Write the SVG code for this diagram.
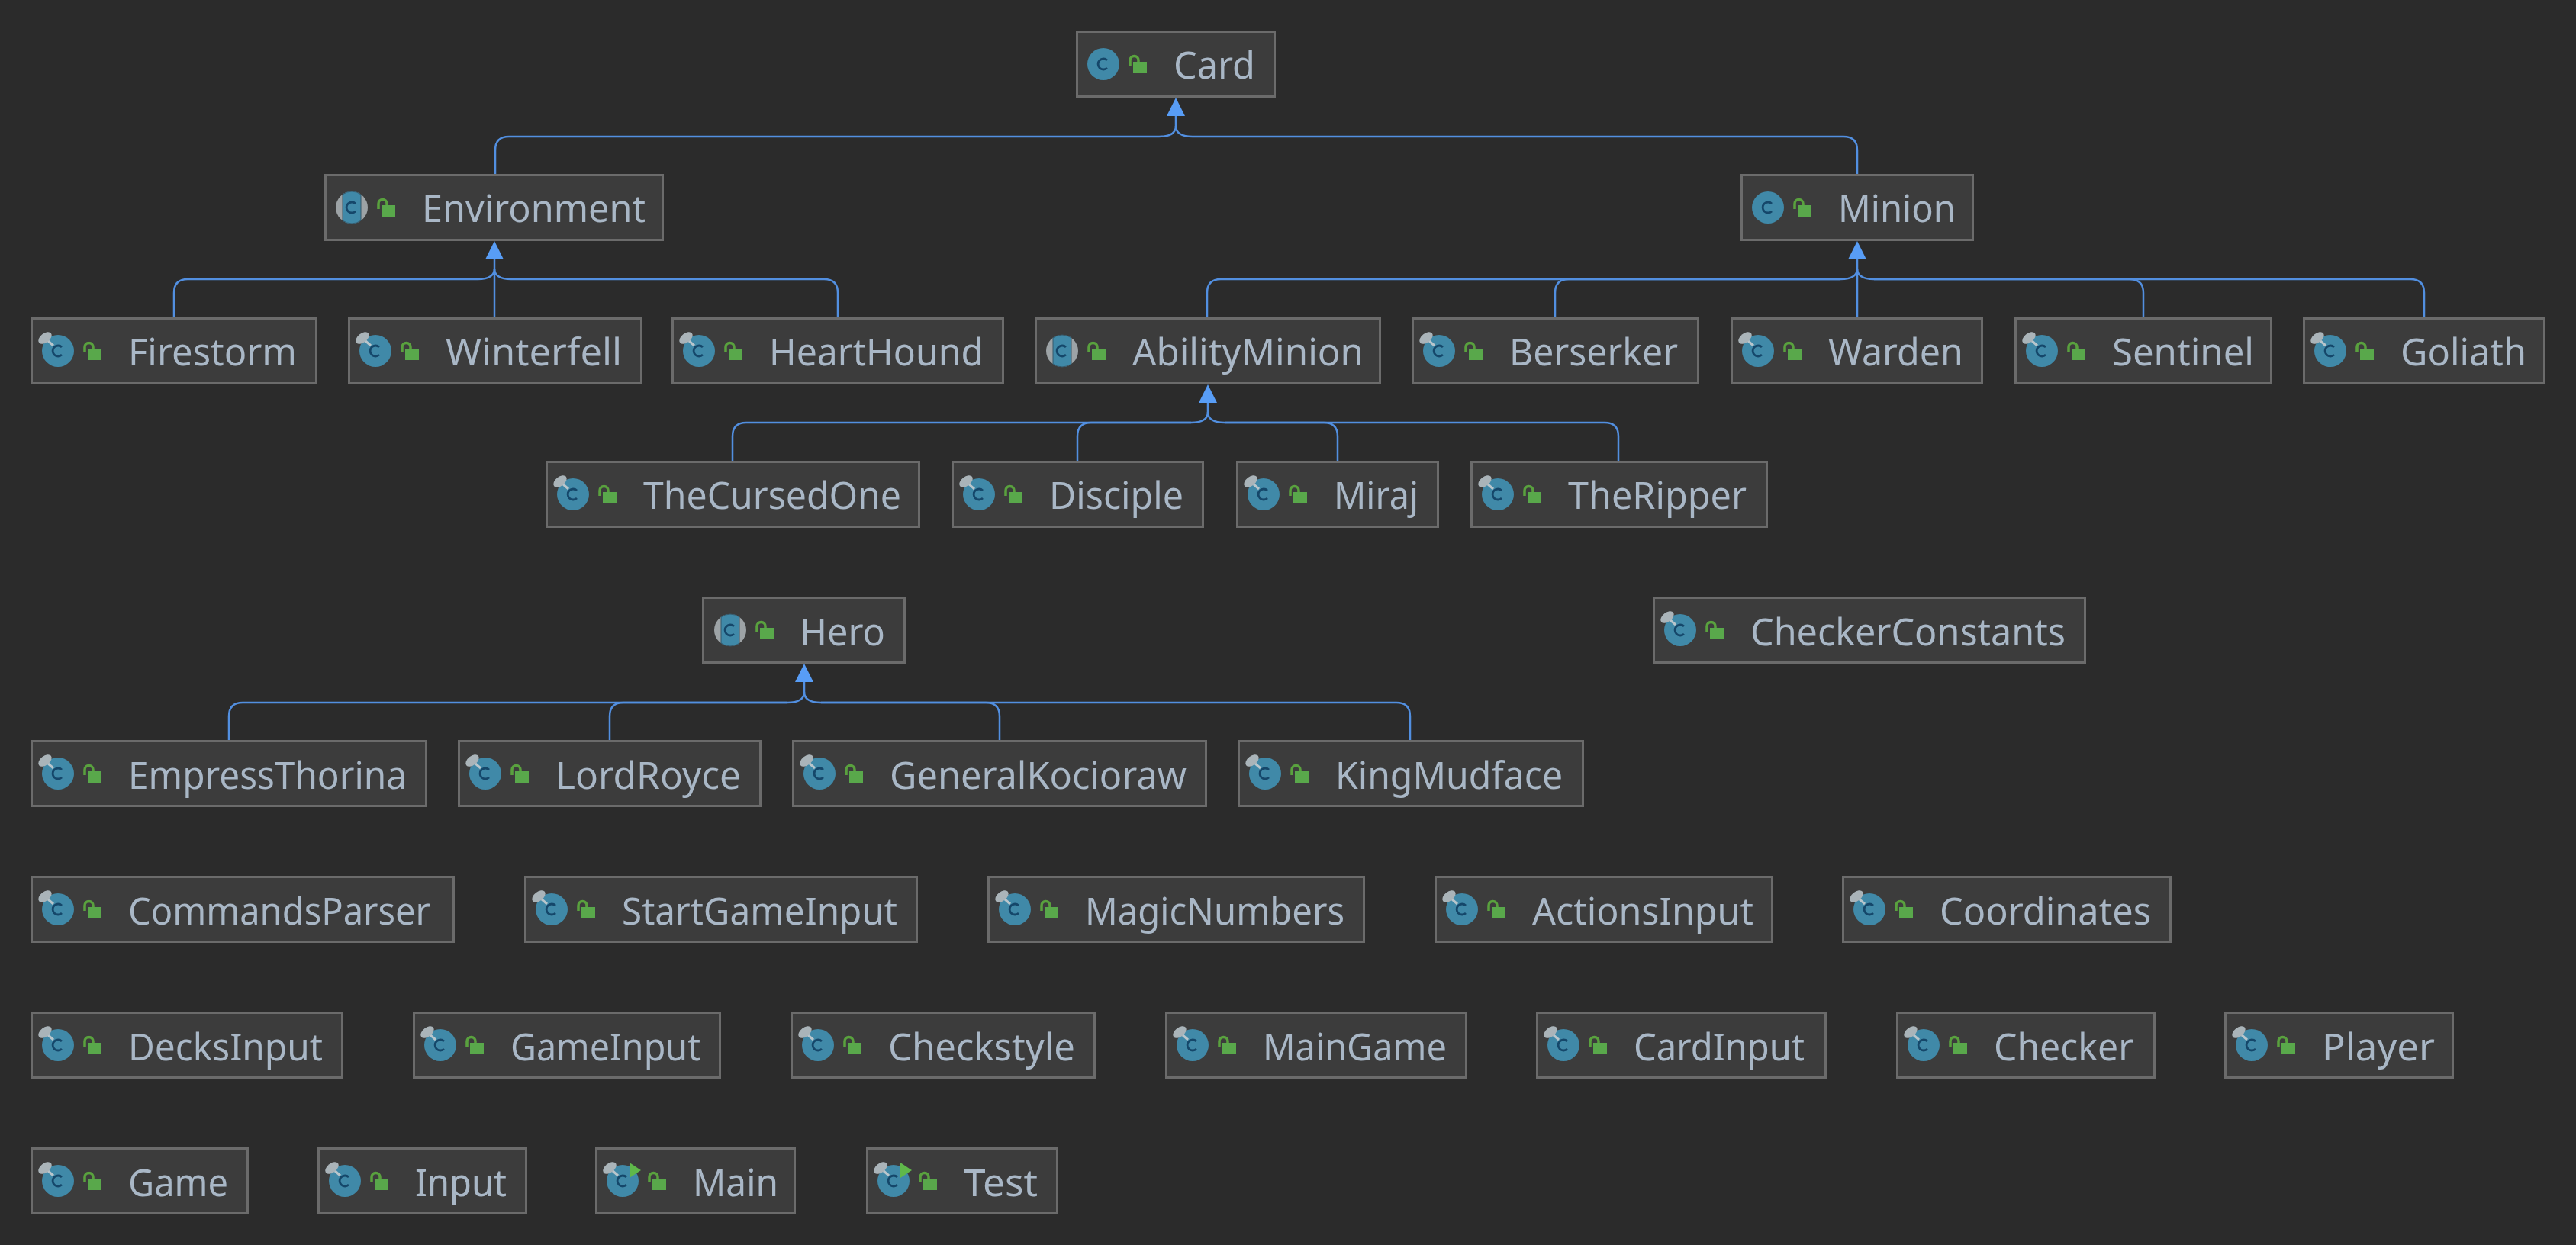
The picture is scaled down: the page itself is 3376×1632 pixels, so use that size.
<svg xmlns="http://www.w3.org/2000/svg" width="3376" height="1632" viewBox="0 0 3376 1632">
<style>
.b{fill:#3c3c3c;stroke:#6b6b6b;stroke-width:3}
.t{font-family:"Noto Sans","DejaVu Sans",sans-serif;font-size:50px;fill:#a9b7c6}
.c{fill:none;stroke:#528fe0;stroke-width:2.500}
.h{fill:none;stroke:#528fe0;stroke-width:2.500;marker-end:url(#arr)}
</style>
<defs>
<marker id="arr" markerUnits="userSpaceOnUse" viewBox="0 -12 24 24" refX="0" refY="0" markerWidth="24" markerHeight="24" orient="auto"><polygon points="0,-12 24,0 0,12" fill="#589df6"/></marker>
<g id="lock"><path d="M71,46V39a5.500,5.500 0 0 1 11,0V42" fill="none" stroke="#59a13e" stroke-width="3.500"/><rect x="75" y="41" width="18" height="15" fill="#59a84b"/></g>
<path id="letter" d="M41,39A7,7 0 1 0 41,49" fill="none" stroke="#15476a" stroke-width="2.800"/>
<g id="cl"><circle cx="36" cy="44" r="21" fill="#4089a8"/><use href="#letter"/></g>
<g id="plain"><use href="#cl"/><use href="#lock"/></g>
<g id="abs"><circle cx="36" cy="44" r="21" fill="#9da3a6"/><path d="M24,26.800A21,21 0 0 1 48,26.800V61.200A21,21 0 0 1 24,61.200Z" fill="#4089a8" stroke="#35596b" stroke-width="1"/><use href="#letter"/><use href="#lock"/></g>
<g id="pin"><use href="#cl"/><path d="M22,30L30,37" stroke="#b9c6cc" stroke-width="3"/><ellipse cx="19" cy="27" rx="10" ry="6" transform="rotate(-38 19 27)" fill="#aab4b9"/><use href="#lock"/></g>
<g id="run"><use href="#pin"/><polygon points="45,20 60,30 45,40" fill="#5fb84a"/></g>
</defs>
<rect width="3376" height="1632" fill="#2b2b2b"/>
<g id="connectors">
<path class="c" d="M649,228V197Q649,179 667,179H1519Q1541,179 1541,165"/>
<path class="c" d="M2434,228V197Q2434,179 2416,179H1563Q1541,179 1541,165"/>
<path class="h" d="M1541,165V152"/>
<path class="c" d="M228,416V384Q228,366 246,366H626Q648,366 648,352"/>
<path class="c" d="M1098,416V384Q1098,366 1080,366H670Q648,366 648,352"/>
<path class="c" d="M648,416V352"/>
<path class="h" d="M648,352V340"/>
<path class="c" d="M1582,416V384Q1582,366 1600,366H2412Q2434,366 2434,352"/>
<path class="c" d="M2038,416V384Q2038,366 2056,366H2412"/>
<path class="c" d="M3177,416V384Q3177,366 3159,366H2456Q2434,366 2434,352"/>
<path class="c" d="M2809,416V384Q2809,366 2791,366H2456"/>
<path class="c" d="M2434,416V352"/>
<path class="h" d="M2434,352V340"/>
<path class="c" d="M960,604V572Q960,554 978,554H1561Q1583,554 1583,540"/>
<path class="c" d="M1412,604V572Q1412,554 1430,554H1561"/>
<path class="c" d="M2121,604V572Q2121,554 2103,554H1605Q1583,554 1583,540"/>
<path class="c" d="M1753,604V572Q1753,554 1735,554H1605"/>
<path class="h" d="M1583,540V528"/>
<path class="c" d="M300,970V939Q300,921 318,921H1032Q1054,921 1054,907"/>
<path class="c" d="M799,970V939Q799,921 817,921H1032"/>
<path class="c" d="M1848,970V939Q1848,921 1830,921H1076Q1054,921 1054,907"/>
<path class="c" d="M1310,970V939Q1310,921 1292,921H1076"/>
<path class="h" d="M1054,907V894"/>
</g>
<g id="Card" transform="translate(1410,40)"><rect class="b" x="1.500" y="1.500" width="259" height="85"/><use href="#plain"/><text class="t" x="128" y="63" textLength="107" lengthAdjust="spacingAndGlyphs">Card</text></g>
<g id="Environment" transform="translate(425,228)"><rect class="b" x="1.500" y="1.500" width="442" height="85"/><use href="#abs"/><text class="t" x="128" y="63" textLength="293" lengthAdjust="spacingAndGlyphs">Environment</text></g>
<g id="Minion" transform="translate(2281,228)"><rect class="b" x="1.500" y="1.500" width="303" height="85"/><use href="#plain"/><text class="t" x="128" y="63" textLength="154" lengthAdjust="spacingAndGlyphs">Minion</text></g>
<g id="Firestorm" transform="translate(40,416)"><rect class="b" x="1.500" y="1.500" width="373" height="85"/><use href="#pin"/><text class="t" x="128" y="63" textLength="221" lengthAdjust="spacingAndGlyphs">Firestorm</text></g>
<g id="Winterfell" transform="translate(456,416)"><rect class="b" x="1.500" y="1.500" width="383" height="85"/><use href="#pin"/><text class="t" x="128" y="63" textLength="231" lengthAdjust="spacingAndGlyphs">Winterfell</text></g>
<g id="HeartHound" transform="translate(880,416)"><rect class="b" x="1.500" y="1.500" width="433" height="85"/><use href="#pin"/><text class="t" x="128" y="63" textLength="281" lengthAdjust="spacingAndGlyphs">HeartHound</text></g>
<g id="AbilityMinion" transform="translate(1356,416)"><rect class="b" x="1.500" y="1.500" width="451" height="85"/><use href="#abs"/><text class="t" x="128" y="63" textLength="303" lengthAdjust="spacingAndGlyphs">AbilityMinion</text></g>
<g id="Berserker" transform="translate(1850,416)"><rect class="b" x="1.500" y="1.500" width="374" height="85"/><use href="#pin"/><text class="t" x="128" y="63" textLength="221" lengthAdjust="spacingAndGlyphs">Berserker</text></g>
<g id="Warden" transform="translate(2268,416)"><rect class="b" x="1.500" y="1.500" width="328" height="85"/><use href="#pin"/><text class="t" x="128" y="63" textLength="177" lengthAdjust="spacingAndGlyphs">Warden</text></g>
<g id="Sentinel" transform="translate(2640,416)"><rect class="b" x="1.500" y="1.500" width="335" height="85"/><use href="#pin"/><text class="t" x="128" y="63" textLength="186" lengthAdjust="spacingAndGlyphs">Sentinel</text></g>
<g id="Goliath" transform="translate(3018,416)"><rect class="b" x="1.500" y="1.500" width="315" height="85"/><use href="#pin"/><text class="t" x="128" y="63" textLength="165" lengthAdjust="spacingAndGlyphs">Goliath</text></g>
<g id="TheCursedOne" transform="translate(715,604)"><rect class="b" x="1.500" y="1.500" width="488" height="85"/><use href="#pin"/><text class="t" x="128" y="63" textLength="338" lengthAdjust="spacingAndGlyphs">TheCursedOne</text></g>
<g id="Disciple" transform="translate(1247,604)"><rect class="b" x="1.500" y="1.500" width="328" height="85"/><use href="#pin"/><text class="t" x="128" y="63" textLength="176" lengthAdjust="spacingAndGlyphs">Disciple</text></g>
<g id="Miraj" transform="translate(1620,604)"><rect class="b" x="1.500" y="1.500" width="263" height="85"/><use href="#pin"/><text class="t" x="128" y="63" textLength="111" lengthAdjust="spacingAndGlyphs">Miraj</text></g>
<g id="TheRipper" transform="translate(1927,604)"><rect class="b" x="1.500" y="1.500" width="387" height="85"/><use href="#pin"/><text class="t" x="128" y="63" textLength="234" lengthAdjust="spacingAndGlyphs">TheRipper</text></g>
<g id="Hero" transform="translate(920,782)"><rect class="b" x="1.500" y="1.500" width="264" height="85"/><use href="#abs" x="1"/><text class="t" x="128" y="64" textLength="112" lengthAdjust="spacingAndGlyphs">Hero</text></g>
<g id="CheckerConstants" transform="translate(2166,782)"><rect class="b" x="1.500" y="1.500" width="565" height="85"/><use href="#pin"/><text class="t" x="128" y="64" textLength="413" lengthAdjust="spacingAndGlyphs">CheckerConstants</text></g>
<g id="EmpressThorina" transform="translate(40,970)"><rect class="b" x="1.500" y="1.500" width="517" height="85"/><use href="#pin"/><text class="t" x="128" y="64" textLength="365" lengthAdjust="spacingAndGlyphs">EmpressThorina</text></g>
<g id="LordRoyce" transform="translate(600,970)"><rect class="b" x="1.500" y="1.500" width="395" height="85"/><use href="#pin"/><text class="t" x="128" y="64" textLength="243" lengthAdjust="spacingAndGlyphs">LordRoyce</text></g>
<g id="GeneralKocioraw" transform="translate(1038,970)"><rect class="b" x="1.500" y="1.500" width="541" height="85"/><use href="#pin"/><text class="t" x="128" y="64" textLength="389" lengthAdjust="spacingAndGlyphs">GeneralKocioraw</text></g>
<g id="KingMudface" transform="translate(1622,970)"><rect class="b" x="1.500" y="1.500" width="451" height="85"/><use href="#pin"/><text class="t" x="128" y="64" textLength="298" lengthAdjust="spacingAndGlyphs">KingMudface</text></g>
<g id="CommandsParser" transform="translate(40,1148)"><rect class="b" x="1.500" y="1.500" width="553" height="85"/><use href="#pin"/><text class="t" x="128" y="64" textLength="396" lengthAdjust="spacingAndGlyphs">CommandsParser</text></g>
<g id="StartGameInput" transform="translate(687,1148)"><rect class="b" x="1.500" y="1.500" width="513" height="85"/><use href="#pin"/><text class="t" x="128" y="64" textLength="361" lengthAdjust="spacingAndGlyphs">StartGameInput</text></g>
<g id="MagicNumbers" transform="translate(1294,1148)"><rect class="b" x="1.500" y="1.500" width="492" height="85"/><use href="#pin"/><text class="t" x="128" y="64" textLength="340" lengthAdjust="spacingAndGlyphs">MagicNumbers</text></g>
<g id="ActionsInput" transform="translate(1880,1148)"><rect class="b" x="1.500" y="1.500" width="441" height="85"/><use href="#pin"/><text class="t" x="128" y="64" textLength="290" lengthAdjust="spacingAndGlyphs">ActionsInput</text></g>
<g id="Coordinates" transform="translate(2414,1148)"><rect class="b" x="1.500" y="1.500" width="429" height="85"/><use href="#pin"/><text class="t" x="128" y="64" textLength="277" lengthAdjust="spacingAndGlyphs">Coordinates</text></g>
<g id="DecksInput" transform="translate(40,1326)"><rect class="b" x="1.500" y="1.500" width="407" height="85"/><use href="#pin"/><text class="t" x="128" y="64" textLength="255" lengthAdjust="spacingAndGlyphs">DecksInput</text></g>
<g id="GameInput" transform="translate(541,1326)"><rect class="b" x="1.500" y="1.500" width="401" height="85"/><use href="#pin"/><text class="t" x="128" y="64" textLength="249" lengthAdjust="spacingAndGlyphs">GameInput</text></g>
<g id="Checkstyle" transform="translate(1036,1326)"><rect class="b" x="1.500" y="1.500" width="397" height="85"/><use href="#pin"/><text class="t" x="128" y="64" textLength="245" lengthAdjust="spacingAndGlyphs">Checkstyle</text></g>
<g id="MainGame" transform="translate(1527,1326)"><rect class="b" x="1.500" y="1.500" width="393" height="85"/><use href="#pin"/><text class="t" x="128" y="64" textLength="241" lengthAdjust="spacingAndGlyphs">MainGame</text></g>
<g id="CardInput" transform="translate(2013,1326)"><rect class="b" x="1.500" y="1.500" width="378" height="85"/><use href="#pin"/><text class="t" x="128" y="64" textLength="224" lengthAdjust="spacingAndGlyphs">CardInput</text></g>
<g id="Checker" transform="translate(2485,1326)"><rect class="b" x="1.500" y="1.500" width="337" height="85"/><use href="#pin"/><text class="t" x="128" y="64" textLength="183" lengthAdjust="spacingAndGlyphs">Checker</text></g>
<g id="Player" transform="translate(2915,1326)"><rect class="b" x="1.500" y="1.500" width="298" height="85"/><use href="#pin"/><text class="t" x="128" y="64" textLength="148" lengthAdjust="spacingAndGlyphs">Player</text></g>
<g id="Game" transform="translate(40,1504)"><rect class="b" x="1.500" y="1.500" width="283" height="85"/><use href="#pin"/><text class="t" x="128" y="64" textLength="131" lengthAdjust="spacingAndGlyphs">Game</text></g>
<g id="Input" transform="translate(416,1504)"><rect class="b" x="1.500" y="1.500" width="272" height="85"/><use href="#pin"/><text class="t" x="128" y="64" textLength="120" lengthAdjust="spacingAndGlyphs">Input</text></g>
<g id="Main" transform="translate(780,1504)"><rect class="b" x="1.500" y="1.500" width="260" height="85"/><use href="#run"/><text class="t" x="128" y="64" textLength="112" lengthAdjust="spacingAndGlyphs">Main</text></g>
<g id="Test" transform="translate(1135,1504)"><rect class="b" x="1.500" y="1.500" width="249" height="85"/><use href="#run"/><text class="t" x="128" y="64" textLength="97" lengthAdjust="spacingAndGlyphs">Test</text></g>
</svg>
